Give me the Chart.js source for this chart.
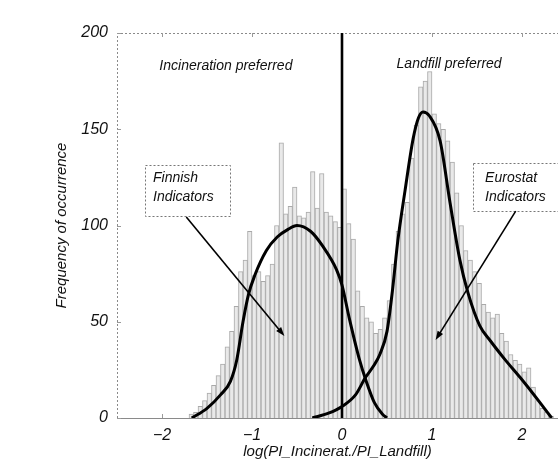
<!DOCTYPE html>
<html>
<head>
<meta charset="utf-8">
<script src="https://cdn.jsdelivr.net/npm/chart.js@4.4.0/dist/chart.umd.min.js"></script>
<style>
  html, body { margin: 0; padding: 0; background: #ffffff; }
  #wrap { width: 558px; height: 466px; }
</style>
</head>
<body>
<div id="wrap"><canvas id="c" width="558" height="466"></canvas></div>
<script>
// ---- data ----
const binCenters = [
  -1.675, -1.625, -1.575, -1.525, -1.475, -1.425, -1.375, -1.325, -1.275, -1.225,
  -1.175, -1.125, -1.075, -1.025, -0.975, -0.925, -0.875, -0.825, -0.775, -0.725,
  -0.675, -0.625, -0.575, -0.525, -0.475, -0.425, -0.375, -0.325, -0.275, -0.225,
  -0.175, -0.125, -0.075, -0.025, 0.025, 0.075, 0.125, 0.175, 0.225, 0.275,
  0.325, 0.375, 0.425, 0.475, 0.525, 0.575, 0.625, 0.675, 0.725, 0.775,
  0.825, 0.875, 0.925, 0.975, 1.025, 1.075, 1.125, 1.175, 1.225, 1.275,
  1.325, 1.375, 1.425, 1.475, 1.525, 1.575, 1.625, 1.675, 1.725, 1.775,
  1.825, 1.875, 1.925, 1.975, 2.025, 2.075, 2.125, 2.175, 2.225, 2.275, 2.325
];
const counts = [
  2, 3, 6, 9, 13, 17, 22, 28, 37, 45,
  58, 76, 82, 97, 74, 76, 71, 74, 80, 100,
  143, 106, 110, 120, 105, 104, 107, 128, 109, 127,
  107, 105, 102, 99, 119, 101, 93, 66, 58, 52,
  50, 44, 46, 52, 61, 80, 97, 106, 112, 135,
  152, 172, 175, 180, 158, 153, 150, 144, 133, 117,
  100, 87, 82, 76, 70, 59, 55, 52, 54, 44,
  40, 33, 30, 28, 24, 26, 16, 9, 5, 3, 1
];
const finnishX = [-1.67, -1.5, -1.35, -1.24, -1.17, -1.10, -1.04, -0.97, -0.84, -0.72, -0.6, -0.5, -0.35, -0.21, -0.06, 0.0, 0.08, 0.19, 0.27, 0.36, 0.45, 0.5];
const finnishY = [0, 5, 12, 19, 30, 50, 64, 74, 87, 94, 98, 100, 97, 89, 77, 69, 52, 31, 19, 8, 2, 0];
const eurostatX = [-0.33, -0.15, 0.0, 0.15, 0.26, 0.35, 0.42, 0.5, 0.56, 0.62, 0.7, 0.79, 0.85, 0.9, 0.97, 1.09, 1.2, 1.31, 1.4, 1.53, 1.65, 1.8, 1.98, 2.1, 2.2, 2.33];
const eurostatY = [0, 2.5, 6, 12, 21, 27, 33, 45, 66, 92, 118, 145, 156, 159, 157, 144, 112, 82, 65, 48, 40, 31, 21, 14, 8, 0];
const xTicks = [-2, -1, 0, 1, 2];
const yTicks = [0, 50, 100, 150, 200];
const dividerX = [0, 0];
const dividerY = [0, 200];

// ---- helpers ----
const pts = (xs, ys) => xs.map((v, i) => ({ x: v, y: ys[i] }));
const FONT = "'Liberation Sans', Arial, Helvetica, sans-serif";

const annotPlugin = {
  id: 'annot',
  beforeDatasetsDraw(chart) {
    const { ctx, chartArea: a, scales: { x, y } } = chart;
    ctx.save();
    ctx.strokeStyle = '#8a8a8a';
    ctx.lineWidth = 1;
    ctx.setLineDash([2, 2]);
    ctx.beginPath();
    ctx.moveTo(a.left + 0.5, a.bottom); ctx.lineTo(a.left + 0.5, a.top + 0.5);
    ctx.lineTo(a.right, a.top + 0.5);
    ctx.stroke();
    ctx.setLineDash([]);
    ctx.strokeStyle = '#9a9a9a';
    // small inward tick marks
    ctx.beginPath();
    xTicks.forEach(v => {
      const px = Math.round(x.getPixelForValue(v)) + 0.5;
      ctx.moveTo(px, a.top); ctx.lineTo(px, a.top + 4);
      ctx.moveTo(px, a.bottom); ctx.lineTo(px, a.bottom - 4);
    });
    yTicks.forEach(v => {
      const py = Math.round(y.getPixelForValue(v)) + 0.5;
      ctx.moveTo(a.left, py); ctx.lineTo(a.left + 4, py);
    });
    ctx.stroke();
    ctx.restore();
  },
  afterDatasetsDraw(chart) {
    const { ctx, scales: { x, y } } = chart;
    const X = v => x.getPixelForValue(v), Y = v => y.getPixelForValue(v);
    ctx.save();
    ctx.fillStyle = '#111';
    ctx.font = 'italic 14px ' + FONT;
    ctx.textBaseline = 'middle';
    ctx.textAlign = 'center';
    ctx.fillText('Incineration preferred', X(-1.29), Y(183));
    ctx.fillText('Landfill preferred', X(1.19), Y(184));

    // boxes
    const box = (x0, y0, x1, y1) => {
      ctx.save();
      ctx.strokeStyle = '#777';
      ctx.lineWidth = 1;
      ctx.setLineDash([2, 2]);
      ctx.fillStyle = '#fff';
      const l = Math.round(X(x0)) + 0.5, t = Math.round(Y(y0)) + 0.5;
      const r = Math.round(X(x1)) + 0.5, b = Math.round(Y(y1)) + 0.5;
      ctx.fillRect(l, t, r - l, b - t);
      ctx.strokeRect(l, t, r - l, b - t);
      ctx.restore();
    };
    box(-2.19, 131.5, -1.24, 104.8);
    box(1.46, 132.5, 2.395, 107.5);

    ctx.textAlign = 'left';
    ctx.font = 'italic 14px ' + FONT;
    ctx.fillText('Finnish', X(-2.10), Y(124.5));
    ctx.fillText('Indicators', X(-2.10), Y(115));
    ctx.fillText('Eurostat', X(1.59), Y(124.5));
    ctx.fillText('Indicators', X(1.59), Y(115));

    // arrows
    const arrow = (x0, y0, x1, y1) => {
      const sx = X(x0), sy = Y(y0), ex = X(x1), ey = Y(y1);
      const ang = Math.atan2(ey - sy, ex - sx);
      const L = 9, W = 3.2;
      ctx.save();
      ctx.strokeStyle = '#000';
      ctx.fillStyle = '#000';
      ctx.lineWidth = 1.6;
      ctx.beginPath();
      ctx.moveTo(sx, sy);
      ctx.lineTo(ex - Math.cos(ang) * L * 0.8, ey - Math.sin(ang) * L * 0.8);
      ctx.stroke();
      ctx.beginPath();
      ctx.moveTo(ex, ey);
      ctx.lineTo(ex - Math.cos(ang) * L + Math.sin(ang) * W, ey - Math.sin(ang) * L - Math.cos(ang) * W);
      ctx.lineTo(ex - Math.cos(ang) * L - Math.sin(ang) * W, ey - Math.sin(ang) * L + Math.cos(ang) * W);
      ctx.closePath();
      ctx.fill();
      ctx.restore();
    };
    arrow(-1.73, 104.4, -0.64, 42.6);
    arrow(1.93, 107.5, 1.04, 40.5);
    ctx.restore();
  }
};

new Chart(document.getElementById('c'), {
  type: 'bar',
  data: {
    datasets: [
      {
        type: 'line', data: pts(dividerX, dividerY), borderColor: '#000', borderWidth: 2.6,
        pointRadius: 0, order: 1
      },
      {
        type: 'line', data: pts(finnishX, finnishY), borderColor: '#000', borderWidth: 3,
        pointRadius: 0, cubicInterpolationMode: 'monotone', order: 1
      },
      {
        type: 'line', data: pts(eurostatX, eurostatY), borderColor: '#000', borderWidth: 3,
        pointRadius: 0, cubicInterpolationMode: 'monotone', order: 1
      },
      {
        type: 'bar', data: pts(binCenters, counts),
        backgroundColor: '#e9e9e9', borderColor: '#a9a9a9', borderWidth: 1,
        barPercentage: 1, categoryPercentage: 1, order: 3
      }
    ]
  },
  options: {
    responsive: false,
    animation: false,
    devicePixelRatio: 1,
    layout: { padding: { top: 33, right: 0, left: 0, bottom: 0 } },
    plugins: { legend: { display: false }, tooltip: { enabled: false } },
    scales: {
      x: {
        type: 'linear', min: -2.5, max: 2.4, offset: false,
        afterBuildTicks: s => { s.ticks = xTicks.map(v => ({ value: v })); },
        afterFit: s => { s.height = 48; },
        grid: { display: false, drawTicks: false },
        border: { display: true, color: '#8a8a8a', width: 1, dash: [2, 1] },
        ticks: {
          color: '#111', padding: 8, maxRotation: 0,
          font: { family: FONT, size: 16, style: 'italic' },
          callback: v => (v < 0 ? '\u2212' + Math.abs(v) : String(v))
        },
        title: {
          display: true, text: 'log(PI_Incinerat./PI_Landfill)', color: '#111',
          font: { family: FONT, size: 15, style: 'italic' }, padding: { top: 0, bottom: 5 }
        }
      },
      y: {
        type: 'linear', min: 0, max: 200,
        afterBuildTicks: s => { s.ticks = yTicks.map(v => ({ value: v })); },
        afterFit: s => { s.width = 117; },
        grid: { display: false, drawTicks: false },
        border: { display: false },
        ticks: {
          color: '#111', padding: 9,
          font: { family: FONT, size: 16, style: 'italic' }
        },
        title: {
          display: true, text: 'Frequency of occurrence', color: '#111',
          font: { family: FONT, size: 15, style: 'italic' }, padding: { top: 53, bottom: 0 }
        }
      }
    }
  },
  plugins: [annotPlugin]
});
</script>
</body>
</html>
